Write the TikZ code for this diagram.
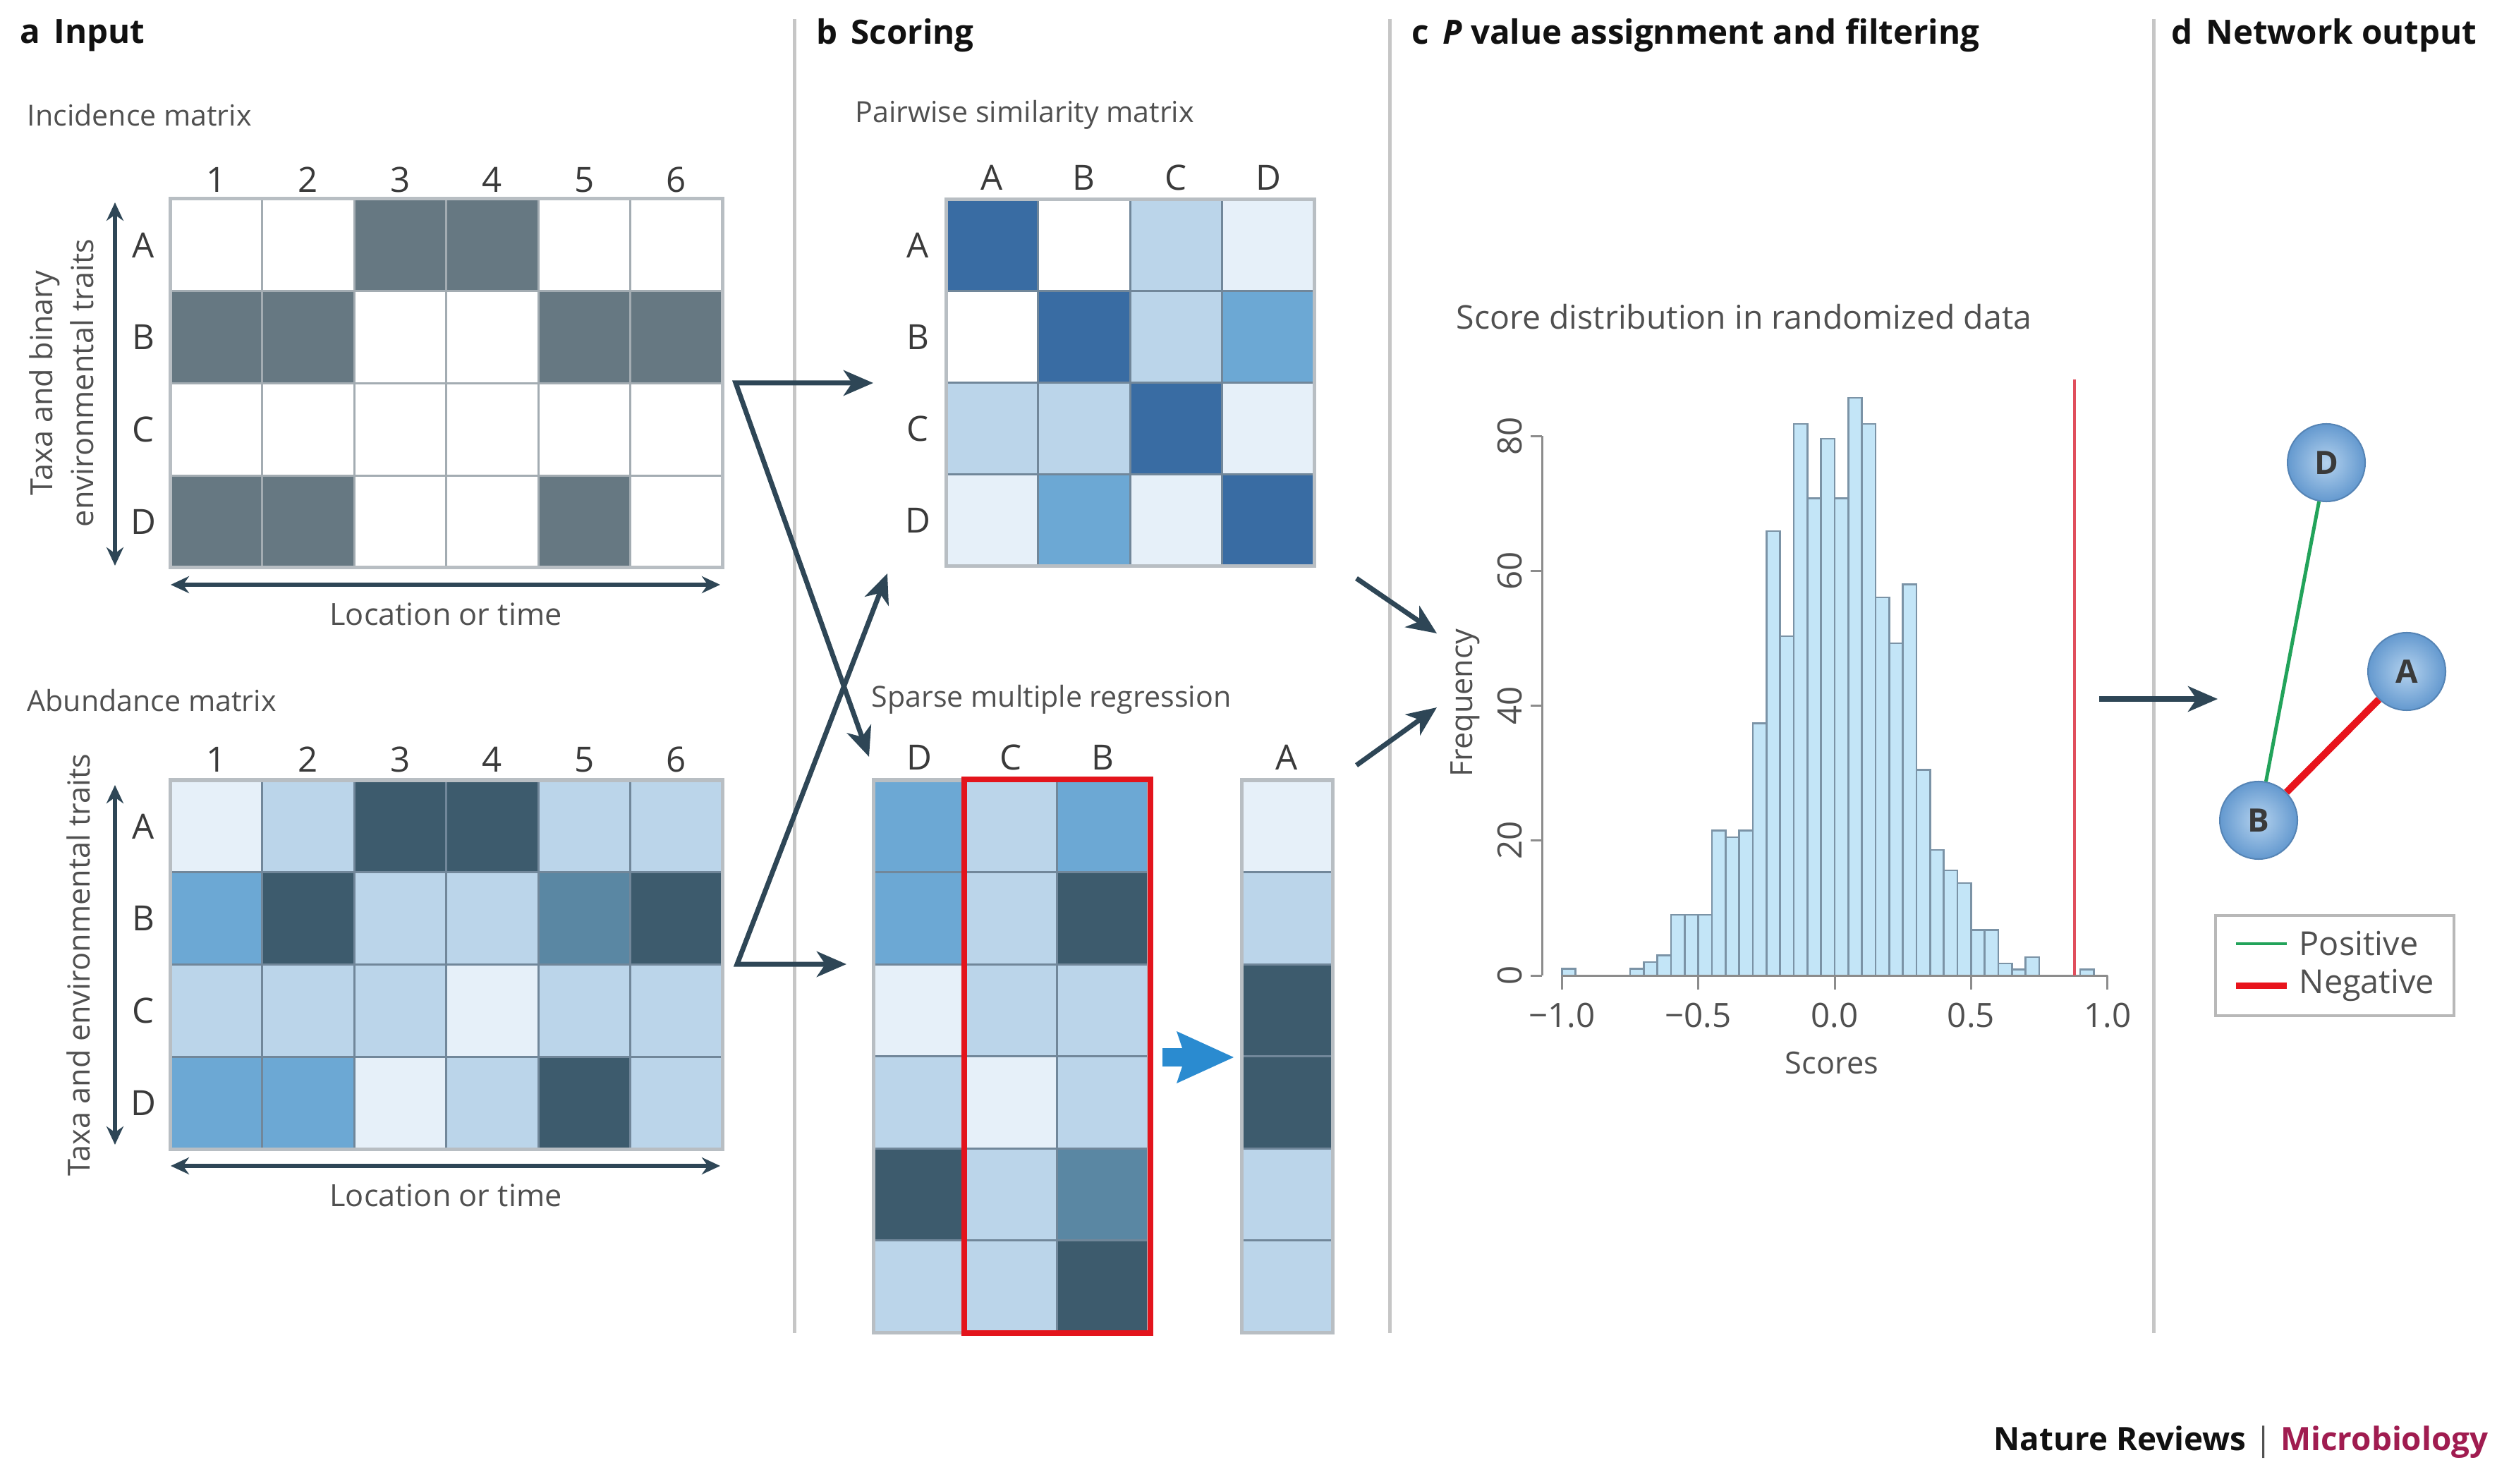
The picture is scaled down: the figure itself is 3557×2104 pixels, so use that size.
\documentclass[tikz,border=0pt]{standalone}
\usepackage{fontspec}
\setmainfont{Open Sans}
\usetikzlibrary{arrows.meta}
\definecolor{cW}{HTML}{FFFFFF}
\definecolor{cG}{HTML}{667882}
\definecolor{cV}{HTML}{E6F0F9}
\definecolor{cL}{HTML}{BBD5EA}
\definecolor{cM}{HTML}{6CA8D4}
\definecolor{cS}{HTML}{5A87A3}
\definecolor{cK}{HTML}{3D5B6D}
\definecolor{cB}{HTML}{396CA3}
\definecolor{gridinc}{HTML}{A3ACB2}
\definecolor{gridab}{HTML}{71879A}
\definecolor{mborder}{HTML}{B8BEC3}
\definecolor{sepc}{HTML}{C6C6C6}
\definecolor{arrowc}{HTML}{2E4656}
\definecolor{labelgray}{HTML}{505050}
\definecolor{mlabc}{HTML}{3A3A3A}
\definecolor{titlec}{HTML}{111111}
\definecolor{barfill}{HTML}{C3E5F7}
\definecolor{barline}{HTML}{7B93A6}
\definecolor{axisc}{HTML}{8C8C8C}
\definecolor{redline}{HTML}{E04E5C}
\definecolor{bigblue}{HTML}{2A8BD0}
\definecolor{redbox}{HTML}{E3141C}
\definecolor{posgreen}{HTML}{22A35A}
\definecolor{negred}{HTML}{E8141C}
\definecolor{nodein}{HTML}{B4D2EE}
\definecolor{nodeout}{HTML}{6499CF}
\definecolor{nodeborder}{HTML}{5584B5}
\definecolor{legbox}{HTML}{B8B8B8}
\definecolor{natred}{HTML}{A01C50}

\newcommand{\matgrid}[6]{%
  \foreach \rowlist [count=\r from 0] in {#5} {
    \foreach \cc [count=\k from 0] in \rowlist {
      \filldraw[fill=c\cc, draw=#6, line width=0.03cm] ({#1+#3*\k},{#2+#4*\r}) rectangle ++(#3,#4);
    }
  }%
}

\begin{document}
\begin{tikzpicture}[x=0.01cm,y=-0.01cm,
  ttl/.style={font=\bfseries\fontsize{13.5}{16}\selectfont, text=titlec, anchor=west, inner sep=0},
  lbl/.style={font=\fontsize{11.7}{14}\selectfont, text=labelgray, anchor=west, inner sep=0},
  mlab/.style={font=\fontsize{14}{16}\selectfont, text=mlabc, inner sep=0},
  axlab/.style={font=\fontsize{12.3}{16.5}\selectfont, text=labelgray, inner sep=0},
  ticklab/.style={font=\fontsize{13.5}{16}\selectfont, text=labelgray, inner sep=0},
  sepline/.style={draw=sepc, line width=0.05cm},
  outer/.style={draw=mborder, line width=0.05cm},
  flow/.style={draw=arrowc, line width=0.07cm, line join=miter},
  dbl/.style={draw=arrowc, line width=0.055cm, {Stealth[length=0.26cm,width=0.24cm]}-{Stealth[length=0.26cm,width=0.24cm]}},
  >={Stealth[length=0.42cm,width=0.36cm,inset=0.12cm]},
  bar/.style={fill=barfill, draw=barline, line width=0.025cm},
  axis/.style={draw=axisc, line width=0.03cm},
  netnode/.style={circle, minimum size=1.1cm, inner sep=0, draw=nodeborder, line width=0.02cm,
    inner color=nodein, outer color=nodeout, font=\bfseries\fontsize{13}{15}\selectfont, text=mlabc},
]
\useasboundingbox (0,0) rectangle (3557,2104);
\fill[white] (0,0) rectangle (3557,2104);

% separators
\draw[sepline] (1126,27) -- (1126,1890);
\draw[sepline] (1970,27) -- (1970,1890);
\draw[sepline] (3053,27) -- (3053,1890);

% titles
\node[ttl] (ta) at (28,50) {a\hspace{0.4em}Input};
\node[ttl] (tb) at (1157,50) {b\hspace{0.4em}Scoring};
\node[ttl] (tc) at (2001,50) {c\hspace{0.4em}\textit{P} value assignment and filtering};
\node[ttl] (td) at (3078,50) {d\hspace{0.4em}Network output};

% ---------- panel a: incidence ----------
\node[lbl] (incl) at (38,163) {Incidence matrix};
\matgrid{241}{282}{130.5}{130.75}{{W,W,G,G,W,W},{G,G,W,W,G,G},{W,W,W,W,W,W},{G,G,W,W,G,W}}{gridinc}
\draw[outer] (241,282) rectangle (1024,805);
\foreach \t [count=\k from 0] in {1,2,3,4,5,6}
  \node[mlab] (ic\t) at ({241+130.5*(\k+0.5)},255) {\t};
\foreach \t [count=\k from 0] in {A,B,C,D}
  \node[mlab] (ir\t) at (203,{282+130.75*(\k+0.5)}) {\t};
\coordinate (iv1) at (163,287); \coordinate (iv2) at (163,802);
\draw[dbl] (iv1) -- (iv2);
\coordinate (ih1) at (242,829); \coordinate (ih2) at (1021,829);
\draw[dbl] (ih1) -- (ih2);
\node[axlab] (iloc) at (632,871) {Location or time};
\node[axlab, rotate=90, align=center] (itaxa) at (87,543) {Taxa and binary\\environmental traits};

% ---------- panel a: abundance ----------
\node[lbl] (abl) at (38,993) {Abundance matrix};
\matgrid{241}{1106}{130.5}{130.75}{{V,L,K,K,L,L},{M,K,L,L,S,K},{L,L,L,V,L,L},{M,M,V,L,K,L}}{gridab}
\draw[outer] (241,1106) rectangle (1024,1629);
\foreach \t [count=\k from 0] in {1,2,3,4,5,6}
  \node[mlab] (ac\t) at ({241+130.5*(\k+0.5)},1077) {\t};
\foreach \t [count=\k from 0] in {A,B,C,D}
  \node[mlab] (ar\t) at (203,{1106+130.75*(\k+0.5)}) {\t};
\coordinate (av1) at (163,1113); \coordinate (av2) at (163,1623);
\draw[dbl] (av1) -- (av2);
\coordinate (ah1) at (242,1653); \coordinate (ah2) at (1021,1653);
\draw[dbl] (ah1) -- (ah2);
\node[axlab] (aloc) at (632,1695) {Location or time};
\node[axlab, rotate=90] (ataxa) at (111,1368) {Taxa and environmental traits};

% ---------- panel b: similarity ----------
\node[lbl] (siml) at (1212,163) {Pairwise similarity matrix};
\matgrid{1341}{283}{130.6}{130}{{B,W,L,V},{W,B,L,M},{L,L,B,V},{V,M,V,B}}{gridab}
\draw[outer] (1341,283) rectangle (1863.4,803);
\foreach \t [count=\k from 0] in {A,B,C,D}
  \node[mlab] (sc\t) at ({1341+130.6*(\k+0.5)},252) {\t};
\foreach \t [count=\k from 0] in {A,B,C,D}
  \node[mlab] (sr\t) at (1301,{283+130*(\k+0.5)}) {\t};

% ---------- panel b: regression ----------
\node[lbl] (regl) at (1235,992) {Sparse multiple regression};
\matgrid{1238}{1106}{130}{130.5}{{M,L,M},{M,L,K},{V,L,L},{L,V,L},{K,L,S},{L,L,K}}{gridab}
\draw[outer] (1238,1106) rectangle (1628,1889);
\matgrid{1760}{1106}{129}{130.5}{{V},{L},{K},{K},{L},{L}}{gridab}
\draw[outer] (1760,1106) rectangle (1889,1889);
\draw[draw=redbox, line width=0.08cm] (1367,1105) rectangle (1631,1890);
\node[mlab] (rD) at (1303,1074) {D};
\node[mlab] (rC) at (1433,1074) {C};
\node[mlab] (rB) at (1563,1074) {B};
\node[mlab] (rA) at (1824,1074) {A};
\fill[bigblue] (1648,1486) -- (1676,1486) -- (1668,1462) -- (1749,1499) -- (1668,1536) -- (1676,1512) -- (1648,1512) -- cycle;

% ---------- flow arrows a -> b -> c -> d ----------
\coordinate (incOut) at (1043,543);
\coordinate (simIn) at (1238,543);
\coordinate (regIn) at (1232,1073);
\coordinate (abdOut) at (1045,1367);
\coordinate (regIn2) at (1200,1367);
\coordinate (simIn2) at (1258,813);
\draw[flow, <->] (simIn) -- (incOut) -- (regIn);
\draw[flow, <->] (regIn2) -- (abdOut) -- (simIn2);
\coordinate (simOut) at (1923,820);
\coordinate (histIn1) at (2037,898);
\coordinate (regOut) at (1923,1085);
\coordinate (histIn2) at (2037,1003);
\draw[flow, ->] (simOut) -- (histIn1);
\draw[flow, ->] (regOut) -- (histIn2);
\coordinate (histOut) at (2976,991);
\coordinate (netIn) at (3144,991);
\draw[flow, ->] (histOut) -- (netIn);

% ---------- panel c: histogram ----------
\node[lbl, font=\fontsize{13.2}{16}\selectfont] (hist) at (2064,449) {Score distribution in randomized data};
\foreach \h [count=\i from 0] in {1,0,0,0,0,1,2,3,9,9,9,21.5,20.5,21.5,37.4,65.9,50.3,81.8,70.8,79.6,70.8,85.7,81.8,56.1,49.3,58,30.5,18.6,15.6,13.7,6.75,6.75,1.8,0.9,2.7,0,0,0,0.9} {
  \ifdim \h pt>0pt
    \draw[bar] ({2214.3+19.335*\i},1383) rectangle ++(19.335,{-9.558*\h});
  \fi
}
\draw[axis] (2186,1383) -- (2186,618.4);
\foreach \v in {0,20,40,60,80} {
  \draw[axis] (2186,{1383-9.558*\v}) -- (2170,{1383-9.558*\v});
  \node[ticklab, rotate=90] (yt\v) at (2140,{1383-9.558*\v}) {\v};
}
\draw[axis] (2214.3,1383) -- (2987.7,1383);
\foreach \t [count=\j from 0] in {−1.0,−0.5,0.0,0.5,1.0} {
  \draw[axis] ({2214.3+193.35*\j},1383) -- ({2214.3+193.35*\j},1403);
  \node[ticklab] (xt\j) at ({2214.3+193.35*\j},1440) {\t};
}
\node[axlab] (scores) at (2597,1507) {Scores};
\node[axlab, rotate=90] (freq) at (2077,997) {Frequency};
\draw[draw=redline, line width=0.04cm] (2941,538) -- (2941,1383);

% ---------- panel d: network ----------
\node[netnode] (nD) at (3298,656) {D};
\node[netnode] (nA) at (3412,952) {A};
\node[netnode] (nB) at (3202,1163) {B};
\draw[draw=posgreen, line width=0.05cm] (nD) -- (nB);
\draw[draw=negred, line width=0.1cm] (nB) -- (nA);
\node[draw=legbox, line width=0.04cm, minimum width=3.38cm, minimum height=1.42cm, inner sep=0] (legend) at (3310,1369) {};
\draw[draw=posgreen, line width=0.045cm] (3170,1338) -- (3242,1338);
\draw[draw=negred, line width=0.09cm] (3170,1397) -- (3242,1397);
\node[lbl, font=\fontsize{13.3}{16}\selectfont] (lpos) at (3259,1338) {Positive};
\node[lbl, font=\fontsize{13.3}{16}\selectfont] (lneg) at (3259,1397) {Negative};

% footer
\node[anchor=east, inner sep=0, font=\bfseries\fontsize{13}{15}\selectfont, text=titlec] (footer) at (3528,2045)
  {Nature Reviews {\mdseries\color{labelgray}|} \textcolor{natred}{Microbiology}};
\end{tikzpicture}
\end{document}
